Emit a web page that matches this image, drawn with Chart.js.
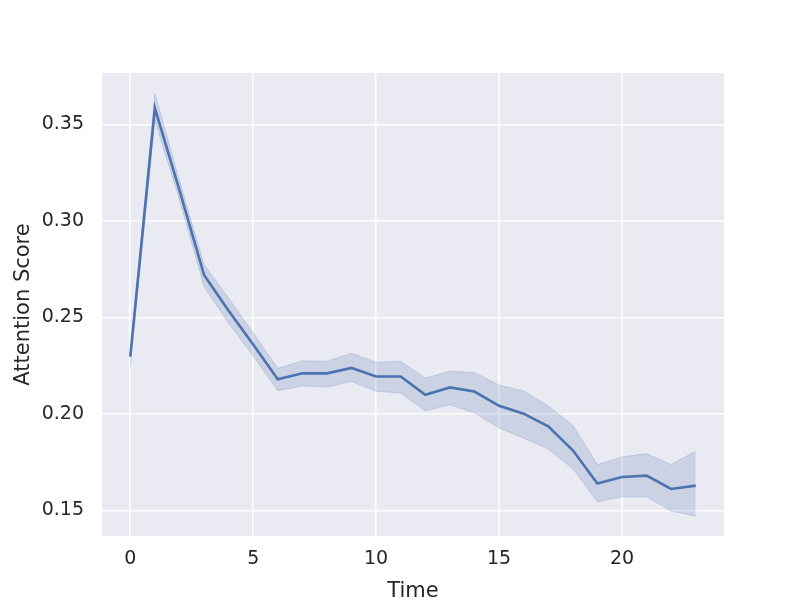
<!DOCTYPE html>
<html>
<head>
<meta charset="utf-8">
<script src="https://cdn.jsdelivr.net/npm/chart.js@4"></script>
<style>
  body { margin: 0; background: #fff; }
</style>
</head>
<body>
<canvas id="myChart" width="807" height="605"></canvas>
<script>
const time = [0, 1, 2, 3, 4, 5, 6, 7, 8, 9, 10, 11, 12, 13, 14, 15, 16, 17, 18, 19, 20, 21, 22, 23];
const meanScore = [0.2297, 0.3585, 0.3160, 0.2720, 0.2535, 0.2360, 0.2180, 0.2211, 0.2210, 0.2238, 0.2194, 0.2194,
    0.2099, 0.2137, 0.2116, 0.2042, 0.2001, 0.1935, 0.1811, 0.1639, 0.1673, 0.1680, 0.1611, 0.1628];
const upperScore = [0.2305, 0.3660, 0.3210, 0.2775, 0.2600, 0.2420, 0.2236, 0.2275, 0.2273, 0.2314, 0.2268, 0.2273,
    0.2185, 0.2222, 0.2215, 0.2150, 0.2119, 0.2042, 0.1941, 0.1737, 0.1777, 0.1794, 0.1737, 0.1807];
const lowerScore = [0.2245, 0.3520, 0.3110, 0.2660, 0.2470, 0.2300, 0.2120, 0.2145, 0.2139, 0.2168, 0.2117, 0.2108,
    0.2016, 0.2047, 0.2004, 0.1927, 0.1874, 0.1818, 0.1716, 0.1544, 0.1570, 0.1570, 0.1496, 0.1470];
const xTicks = [0, 5, 10, 15, 20];
const yTicks = [0.15, 0.20, 0.25, 0.30, 0.35];

const blue = '#4C72B0';
const band = 'rgba(76, 114, 176, 0.2)';
const textColor = '#262626';

function toPoints(values) {
    return time.map((t, i) => ({ x: t, y: values[i] }));
}

const plotBackground = {
    id: 'plotBackground',
    beforeDraw(chart) {
        const { ctx, chartArea } = chart;
        ctx.save();
        ctx.fillStyle = '#EAEAF2';
        ctx.fillRect(chartArea.left, chartArea.top, chartArea.right - chartArea.left, chartArea.bottom - chartArea.top);
        ctx.restore();
    }
};

var ctx = document.getElementById('myChart').getContext('2d');

var myChart = new Chart(ctx, { // eslint-disable-line
    type: 'line',
    data: {
        datasets: [{
            label: 'mean',
            data: toPoints(meanScore),
            borderColor: blue,
            borderWidth: 2.6,
            pointRadius: 0,
            fill: false
        },
        {
            label: 'upper',
            data: toPoints(upperScore),
            borderColor: band,
            borderWidth: 1,
            pointRadius: 0,
            backgroundColor: band,
            fill: '+1'
        },
        {
            label: 'lower',
            data: toPoints(lowerScore),
            borderColor: band,
            borderWidth: 1,
            pointRadius: 0,
            fill: false
        }]
    },
    options: {
        responsive: false,
        animation: false,
        layout: { padding: { top: 73, right: 83, left: 0, bottom: 0 } },
        plugins: {
            legend: { display: false },
            tooltip: { enabled: false }
        },
        scales: {
            x: {
                type: 'linear',
                min: -1.15,
                max: 24.15,
                afterBuildTicks: (scale) => { scale.ticks = xTicks.map(v => ({ value: v })); },
                afterFit: (scale) => { scale.height = 69; },
                grid: { color: '#ffffff', lineWidth: 1.6, drawTicks: false },
                border: { display: false },
                ticks: {
                    color: textColor,
                    padding: 12,
                    font: { family: 'DejaVu Sans', size: 19 },
                    maxRotation: 0
                },
                title: {
                    display: true,
                    text: 'Time',
                    color: textColor,
                    font: { family: 'DejaVu Sans', size: 21 },
                    padding: 1
                }
            },
            y: {
                min: 0.1367,
                max: 0.3767,
                afterBuildTicks: (scale) => { scale.ticks = yTicks.map(v => ({ value: v })); },
                afterFit: (scale) => { scale.width = 102; },
                grid: { color: '#ffffff', lineWidth: 1.6, drawTicks: false },
                border: { display: false },
                ticks: {
                    color: textColor,
                    padding: 18,
                    font: { family: 'DejaVu Sans', size: 19 },
                    callback: (v) => v.toFixed(2)
                },
                title: {
                    display: true,
                    text: 'Attention Score',
                    color: textColor,
                    font: { family: 'DejaVu Sans', size: 21 },
                    padding: 11
                }
            }
        }
    },
    plugins: [plotBackground]
});
</script>
</body>
</html>
